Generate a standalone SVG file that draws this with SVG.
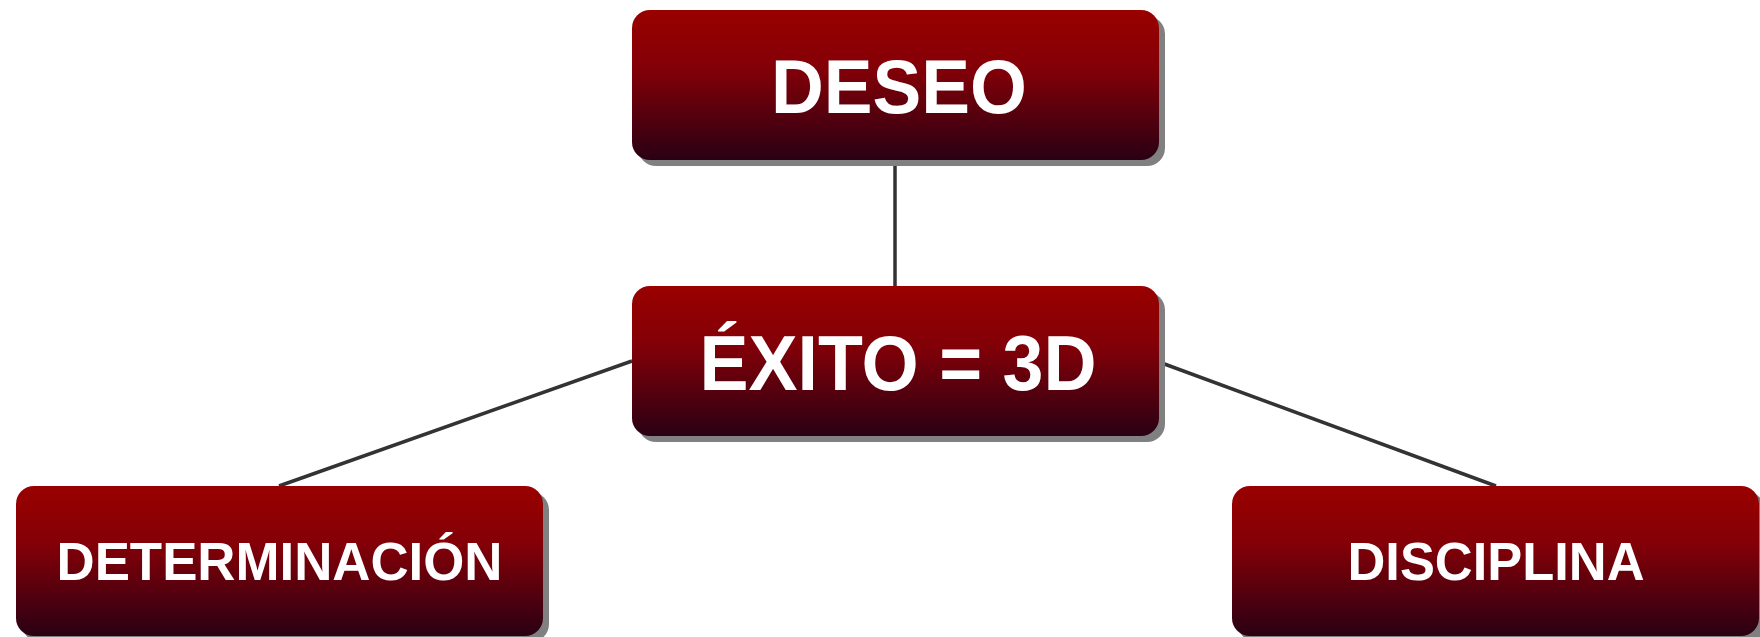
<svg xmlns="http://www.w3.org/2000/svg" width="1760" height="637" viewBox="0 0 1760 637">
<defs>
<linearGradient id="g" x1="0" y1="0" x2="0" y2="1">
<stop offset="0" stop-color="#9a0000"/>
<stop offset="0.4" stop-color="#820008"/>
<stop offset="1" stop-color="#2a0014"/>
</linearGradient>
</defs>
<style>
.sh{fill:#808080}
.bx{fill:url(#g)}
.t{fill:#ffffff;font-family:"Liberation Sans",Arial,sans-serif;font-weight:bold;text-anchor:middle}
.c{stroke:#333333;stroke-width:3.5;fill:none}
</style>
<rect width="1760" height="637" fill="#ffffff"/>
<g id="connectors">
<line class="c" x1="895" y1="160" x2="895" y2="286"/>
<line class="c" x1="632" y1="361" x2="279" y2="486"/>
<line class="c" x1="1159" y1="362" x2="1496" y2="486"/>
</g>
<g id="deseo">
<rect class="sh" x="638" y="16" width="527" height="150" rx="18"/>
<rect class="bx" x="632" y="10" width="527" height="150" rx="18"/>
<text class="t" x="899" y="113" font-size="76" textLength="256" lengthAdjust="spacingAndGlyphs">DESEO</text>
</g>
<g id="exito">
<rect class="sh" x="638" y="292" width="527" height="150" rx="18"/>
<rect class="bx" x="632" y="286" width="527" height="150" rx="18"/>
<text class="t" x="898" y="390" font-size="78" textLength="397" lengthAdjust="spacingAndGlyphs">ÉXITO = 3D</text>
</g>
<g id="determinacion">
<rect class="sh" x="22" y="492" width="527" height="150" rx="18"/>
<rect class="bx" x="16" y="486" width="527" height="150" rx="18"/>
<text class="t" x="279.5" y="580" font-size="54" textLength="446" lengthAdjust="spacingAndGlyphs">DETERMINACIÓN</text>
</g>
<g id="disciplina">
<rect class="sh" x="1238" y="492" width="527" height="150" rx="18"/>
<rect class="bx" x="1232" y="486" width="527" height="150" rx="18"/>
<text class="t" x="1496" y="580" font-size="54" textLength="297" lengthAdjust="spacingAndGlyphs">DISCIPLINA</text>
</g>
</svg>
